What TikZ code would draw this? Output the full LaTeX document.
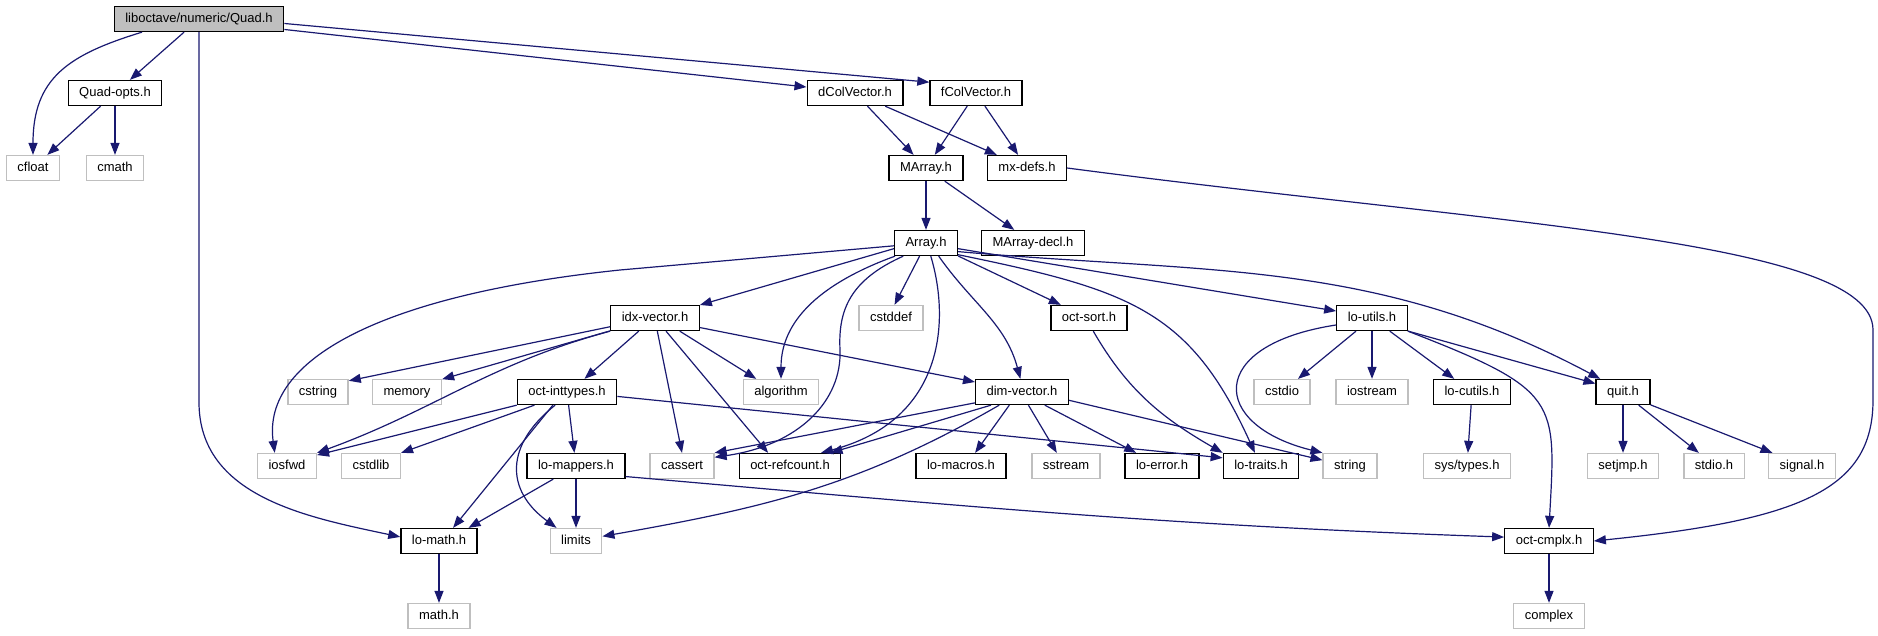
\documentclass[tikz,border=0pt]{standalone}
\usepackage{fontspec}
\setmainfont{Liberation Sans}
\usepackage{tikz}
\usetikzlibrary{arrows.meta}
\definecolor{edgeblue}{RGB}{25,25,112}
\definecolor{sysgray}{RGB}{191,191,191}

\begin{document}
\begin{tikzpicture}[x=1pt, y=1pt,
  hfile/.style={draw=black, line width=1.3pt, fill=white, inner xsep=11pt, inner ysep=0pt,
    minimum height=25pt, text height=9.5pt, text depth=2.5pt, font=\fontsize{13}{15}\selectfont},
  sysfile/.style={hfile, draw=sysgray},
  rootfile/.style={hfile, fill=sysgray},
  incl/.style={edgeblue, line width=1.2pt, -{Triangle[length=12pt,width=9pt]}}]
\useasboundingbox (0,0) rectangle (1878,-635);

% Row 0-2
\node[rootfile] (quad) at (199,-19) {liboctave/numeric/Quad.h};
\node[hfile] (qopts) at (115,-93) {Quad-opts.h};
\node[sysfile] (cfloat) at (33,-168) {cfloat};
\node[sysfile] (cmath) at (115,-168) {cmath};
\node[hfile] (dcol) at (855,-93) {dColVector.h};
\node[hfile] (fcol) at (976,-93) {fColVector.h};
\node[hfile] (marray) at (926,-168) {MArray.h};
\node[hfile] (mxdefs) at (1027,-168) {mx-defs.h};

% Row 3-4
\node[hfile] (array) at (926,-243) {Array.h};
\node[hfile] (marraydecl) at (1033,-243) {MArray-decl.h};
\node[hfile] (idx) at (655,-318) {idx-vector.h};
\node[sysfile] (cstddef) at (891,-318) {cstddef};
\node[hfile] (octsort) at (1089,-318) {oct-sort.h};
\node[hfile] (loutils) at (1372,-318) {lo-utils.h};

% Row 5
\node[sysfile] (cstring) at (318,-392) {cstring};
\node[sysfile] (memory) at (407,-392) {memory};
\node[hfile] (inttypes) at (567,-392) {oct-inttypes.h};
\node[sysfile] (algorithm) at (781,-392) {algorithm};
\node[hfile] (dimvec) at (1022,-392) {dim-vector.h};
\node[sysfile] (cstdio) at (1282,-392) {cstdio};
\node[sysfile] (iostream) at (1372,-392) {iostream};
\node[hfile] (locutils) at (1472,-392) {lo-cutils.h};
\node[hfile] (quit) at (1623,-392) {quit.h};

% Row 6
\node[sysfile] (iosfwd) at (287,-466) {iosfwd};
\node[sysfile] (cstdlib) at (371,-466) {cstdlib};
\node[hfile] (mappers) at (576,-466) {lo-mappers.h};
\node[sysfile] (cassert) at (682,-466) {cassert};
\node[hfile] (refcount) at (790,-466) {oct-refcount.h};
\node[hfile] (lomacros) at (961,-466) {lo-macros.h};
\node[sysfile] (sstream) at (1066,-466) {sstream};
\node[hfile] (loerror) at (1162,-466) {lo-error.h};
\node[hfile] (lotraits) at (1261,-466) {lo-traits.h};
\node[sysfile] (string) at (1350,-466) {string};
\node[sysfile] (systypes) at (1467,-466) {sys/types.h};
\node[sysfile] (setjmp) at (1623,-466) {setjmp.h};
\node[sysfile] (stdio) at (1714,-466) {stdio.h};
\node[sysfile] (signal) at (1802,-466) {signal.h};

% Row 7-8
\node[hfile] (lomath) at (439,-541) {lo-math.h};
\node[sysfile] (limits) at (576,-541) {limits};
\node[hfile] (cmplx) at (1549,-541) {oct-cmplx.h};
\node[sysfile] (mathh) at (439,-616) {math.h};
\node[sysfile] (complex) at (1549,-616) {complex};

% Quad.h
\draw[incl] (quad.193) to[out=197,in=90,looseness=1.2] (cfloat.north);
\draw[incl] (quad) -- (qopts);
\draw[incl] (quad.south) -- ++(0,-370) to[out=-90,in=168] (lomath.174);
\draw[incl] (quad.-7) -- (dcol.173);
\draw[incl] (quad.-3) -- (fcol.167);

% Quad-opts.h, dColVector.h, fColVector.h, MArray.h
\draw[incl] (qopts) -- (cfloat);
\draw[incl] (qopts) -- (cmath);
\draw[incl] (dcol) -- (marray);
\draw[incl] (dcol) -- (mxdefs);
\draw[incl] (fcol) -- (marray);
\draw[incl] (fcol) -- (mxdefs);
\draw[incl] (marray) -- (array);
\draw[incl] (marray) -- (marraydecl);

% mx-defs.h
\draw[incl] (mxdefs.east) .. controls (1500,-225) and (1873,-240) .. (1873,-330) -- (1873,-400)
  .. controls (1873,-490) and (1800,-520) .. (cmplx.east);

% Array.h
\draw[incl] (array.185) -- (620,-270) .. controls (380,-295) and (262,-360) .. (iosfwd.133);
\draw[incl] (array.190) -- (idx);
\draw[incl] (array.203) to[out=200,in=90] (algorithm.north);
\draw[incl] (array.210) .. controls (850,-280) and (838,-310) .. (840,-350)
  .. controls (842,-400) and (800,-445) .. (cassert.15);
\draw[incl] (array.244) -- (cstddef.75);
\draw[incl] (array.-70) .. controls (950,-320) and (945,-420) .. (refcount.23);
\draw[incl] (array.-46) to[out=-55,in=105] (dimvec.97);
\draw[incl] (array.-22) -- (octsort.155);
\draw[incl] (array.-20) .. controls (1130,-290) and (1190,-310) .. (lotraits.115);
\draw[incl] (array.-10) -- (loutils.169);
\draw[incl] (array.-15) to[out=-5,in=152] (quit.150);

% idx-vector.h
\draw[incl] (idx.191) -- (cstring.20);
\draw[incl] (idx.196) -- (memory.20);
\draw[incl] (idx.south west) to[out=195,in=20] (iosfwd.north east);
\draw[incl] (idx.219) -- (inttypes.37);
\draw[incl] (idx.-80) -- (cassert.north);
\draw[incl] (idx.-50) -- (refcount.149);
\draw[incl] (idx.-28) -- (algorithm.152);
\draw[incl] (idx.-12) -- (dimvec.168);

% oct-sort.h, lo-utils.h
\draw[incl] (octsort.-72) to[out=-60,in=150] (lotraits.north west);
\draw[incl] (loutils.191) .. controls (1205,-345) and (1210,-425) .. (string.north west);
\draw[incl] (loutils) -- (cstdio);
\draw[incl] (loutils) -- (iostream);
\draw[incl] (loutils) -- (locutils);
\draw[incl] (loutils.-20) -- (quit.163);
\draw[incl] (loutils.south east) .. controls (1560,-390) and (1556,-400) .. (cmplx.north);

% oct-inttypes.h
\draw[incl] (inttypes.south west) -- (iosfwd.20);
\draw[incl] (inttypes.202) -- (cstdlib.north east);
\draw[incl] (inttypes.223) -- (lomath.43);
\draw[incl] (inttypes.228) .. controls (505,-445) and (505,-490) .. (limits.146);
\draw[incl] (inttypes) -- (mappers);
\draw[incl] (inttypes.-5) -- (lotraits.168);

% lo-mappers.h
\draw[incl] (mappers.210) -- (lomath.24);
\draw[incl] (mappers) -- (limits);
\draw[incl] (mappers.-12) to[out=-5,in=178] (cmplx.175);

% dim-vector.h
\draw[incl] (dimvec.193) -- (cassert.north east);
\draw[incl] (dimvec.203) -- (refcount.18);
\draw[incl] (dimvec.210) to[out=210,in=10] (limits.10);
\draw[incl] (dimvec.226) -- (lomacros.43);
\draw[incl] (dimvec.-64) -- (sstream.125);
\draw[incl] (dimvec.-30) -- (loerror.153);
\draw[incl] (dimvec.-10) -- (string.168);

% quit.h and the rest
\draw[incl] (quit) -- (setjmp);
\draw[incl] (quit.-40) -- (stdio.139);
\draw[incl] (quit.-25) -- (signal.156);
\draw[incl] (locutils) -- (systypes);
\draw[incl] (lomath) -- (mathh);
\draw[incl] (cmplx) -- (complex);
\end{tikzpicture}
\end{document}
